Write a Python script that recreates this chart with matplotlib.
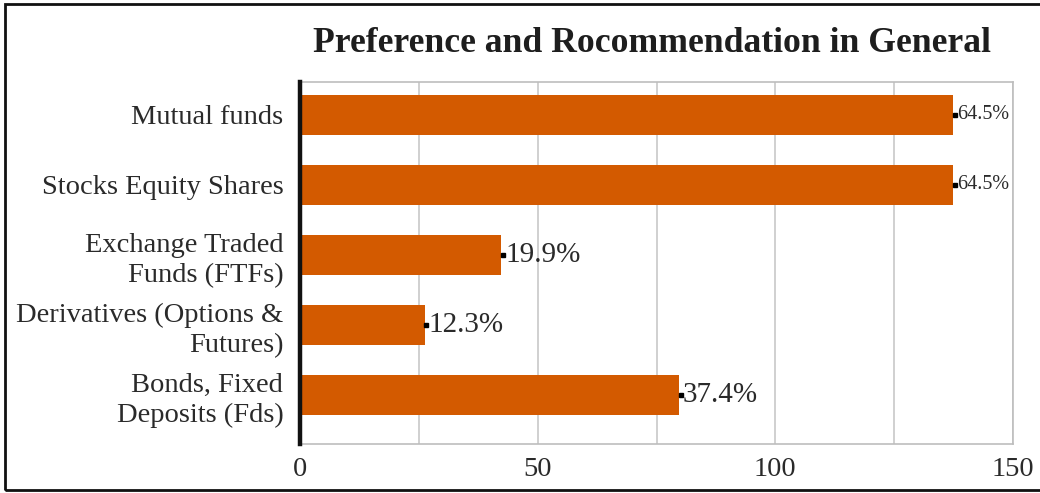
import matplotlib
matplotlib.use("Agg")
import matplotlib.pyplot as plt
from matplotlib.patches import Rectangle

# Survey data
categories = [
    "Mutual funds",
    "Stocks Equity Shares",
    "Exchange Traded\nFunds (FTFs)",
    "Derivatives (Options &\nFutures)",
    "Bonds, Fixed\nDeposits (Fds)",
]
percentages = [64.5, 64.5, 19.9, 12.3, 37.4]
respondents = 213
counts = [p * respondents / 100 for p in percentages]
label_sizes = [14.5, 14.5, 21, 21, 21]

x_ticks = [0, 50, 100, 150]
x_grid = [0, 25, 50, 75, 100, 125, 150]

plt.rcParams["font.family"] = ["Liberation Serif", "DejaVu Serif"]

fig = plt.figure(figsize=(10.4, 4.93), dpi=100)
ax = fig.add_axes([300 / 1040, 1 - 444 / 493, (1013 - 300) / 1040, (444 - 82) / 493])

bar_color = "#D35A00"
ypos = list(range(len(categories)))
ax.barh(ypos, counts, height=0.58, color=bar_color, zorder=3)

for y, c, p, fs in zip(ypos, counts, percentages, label_sizes):
    ax.plot([c + 0.4], [y], marker="s", markersize=3, color="black", zorder=4)
    ax.text(c + 0.9, y, f"{p}%", va="center", ha="left", fontsize=fs,
            color="#2a2a2a", zorder=5)

ax.set_xlim(0, 150)
ax.set_ylim(4.7, -0.47)
ax.set_yticks(ypos)
ax.set_yticklabels(categories, fontsize=20.5, color="#2a2a2a", linespacing=1.25)
ax.set_xticks(x_ticks)
ax.set_xticklabels([str(t) for t in x_ticks], fontsize=20.5, color="#2a2a2a")
ax.set_xticks(x_grid, minor=True)
ax.xaxis.grid(True, which="both", color="#c8c8c8", linewidth=1.2, zorder=0)
ax.tick_params(axis="y", length=0, pad=12)
ax.tick_params(axis="x", length=0, pad=9)
ax.tick_params(axis="x", which="minor", length=0)

for side in ("top", "right", "bottom"):
    ax.spines[side].set_color("#bdbdbd")
    ax.spines[side].set_linewidth(1.2)
ax.spines["left"].set_color("#111111")
ax.spines["left"].set_linewidth(3.2)
ax.spines["left"].set_zorder(6)

fig.text(652 / 1040, 1 - 43 / 493, "Preference and Rocommendation in General",
         ha="center", va="center", fontsize=25.7, fontweight="bold", color="#1e1e1e")

# Outer frame
fig.patches.append(Rectangle((5 / 1040, 3 / 493), 1040 / 1040, 486 / 493,
                             transform=fig.transFigure, fill=False,
                             edgecolor="#111111", linewidth=2))

fig.savefig("out.png", dpi=100)
